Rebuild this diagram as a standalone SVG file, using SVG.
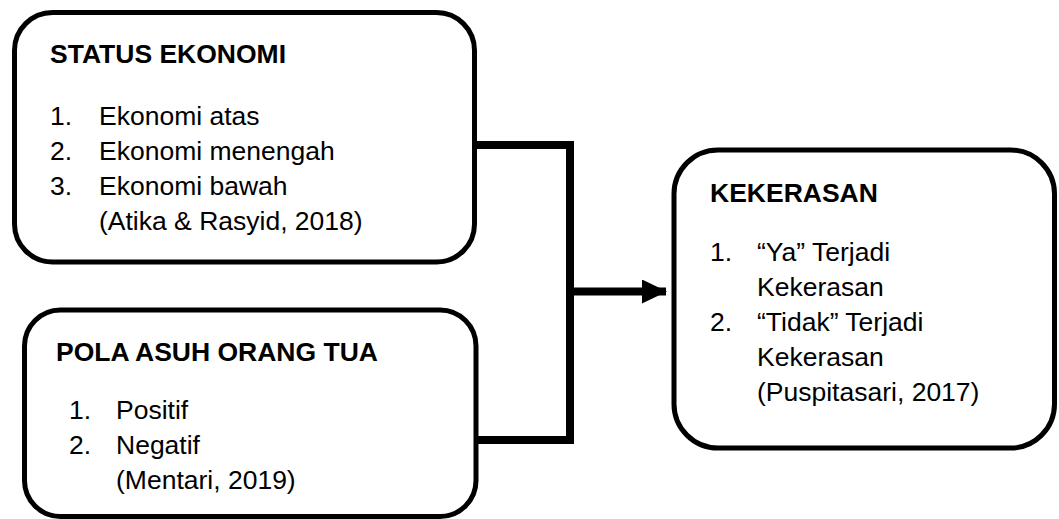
<svg xmlns="http://www.w3.org/2000/svg" width="1059" height="519" viewBox="0 0 1059 519">
  <style>
    .box { fill: #fff; stroke: #000; stroke-width: 5; }
    .t { font-family: "Liberation Sans", Arial, sans-serif; font-size: 26.5px; fill: #000; }
    .b { font-weight: bold; }
    .conn { fill: none; stroke: #000; stroke-width: 8; stroke-linejoin: miter; }
  </style>
  <defs>
    <marker id="arrow" markerUnits="userSpaceOnUse" markerWidth="26" markerHeight="24" refX="24" refY="12" orient="auto">
      <polygon points="0,0 25,12 0,24" fill="#000"/>
    </marker>
  </defs>
  <rect width="1059" height="519" fill="#fff"/>
  <g id="connectors">
    <path class="conn" d="M476,145 H570 V440 H476"/>
    <path class="conn" d="M570,291.5 H666" marker-end="url(#arrow)"/>
  </g>
  <g id="status-ekonomi">
    <rect class="box" x="14.5" y="12.5" width="460" height="249.5" rx="38"/>
    <text class="t b" x="50" y="63">STATUS EKONOMI</text>
    <text class="t" x="50" y="125">1.</text><text class="t" x="99" y="125">Ekonomi atas</text>
    <text class="t" x="50" y="160">2.</text><text class="t" x="99" y="160">Ekonomi menengah</text>
    <text class="t" x="50" y="195">3.</text><text class="t" x="99" y="195">Ekonomi bawah</text>
    <text class="t" x="99" y="230">(Atika &amp; Rasyid, 2018)</text>
  </g>
  <g id="pola-asuh">
    <rect class="box" x="24.5" y="310" width="451.5" height="206.5" rx="36"/>
    <text class="t b" x="56" y="361">POLA ASUH ORANG TUA</text>
    <text class="t" x="69" y="419">1.</text><text class="t" x="116" y="419">Positif</text>
    <text class="t" x="69" y="454">2.</text><text class="t" x="116" y="454">Negatif</text>
    <text class="t" x="116" y="489">(Mentari, 2019)</text>
  </g>
  <g id="kekerasan">
    <rect class="box" x="674" y="150" width="380.5" height="298" rx="44"/>
    <text class="t b" x="710" y="202">KEKERASAN</text>
    <text class="t" x="710" y="261">1.</text><text class="t" x="757" y="261">“Ya” Terjadi</text>
    <text class="t" x="757" y="296">Kekerasan</text>
    <text class="t" x="710" y="331">2.</text><text class="t" x="757" y="331">“Tidak” Terjadi</text>
    <text class="t" x="757" y="366">Kekerasan</text>
    <text class="t" x="757" y="401">(Puspitasari, 2017)</text>
  </g>
</svg>
